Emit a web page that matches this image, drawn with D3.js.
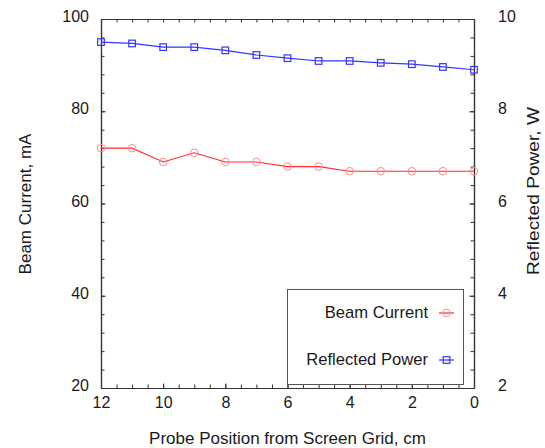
<!DOCTYPE html>
<html>
<head>
<meta charset="utf-8">
<script src="https://cdn.jsdelivr.net/npm/d3@7"></script>
<style>
  html, body { margin: 0; padding: 0; background: #fff; }
  svg { display: block; font-family: "Liberation Sans", Arial, sans-serif; }
</style>
</head>
<body>
<svg id="chart" width="545" height="448"></svg>
<script>
// ---- data ----
const positions = [12, 11, 10, 9, 8, 7, 6, 5, 4, 3, 2, 1, 0];
const beamCurrent = [72, 72, 69, 71, 69, 69, 68, 68, 67, 67, 67, 67, 67];
const reflectedPower = [9.5, 9.47, 9.39, 9.39, 9.32, 9.22, 9.15, 9.09, 9.09, 9.05, 9.02, 8.96, 8.9];
const xTickLabels = [12, 10, 8, 6, 4, 2, 0];
const leftTickLabels = [20, 40, 60, 80, 100];
const rightTickLabels = [2, 4, 6, 8, 10];
const xMinorTicks = d3.range(0, 25).map(i => i * 0.5);
const leftMinorTicks = d3.range(0, 21).map(i => 20 + i * 4);
const rightMinorTicks = d3.range(0, 21).map(i => +(2 + i * 0.4).toFixed(1));
const seriesNames = ["Beam Current", "Reflected Power"];

// ---- layout ----
const L = 101, R = 474, T = 19, B = 388;
const svg = d3.select("#chart");

const x = d3.scaleLinear().domain([12, 0]).range([L, R]);
const yL = d3.scaleLinear().domain([20, 100]).range([B, T]);
const yR = d3.scaleLinear().domain([2, 10]).range([B, T]);

const axisColor = "#333";
const textColor = "#1a1a1a";

function styleAxis(g) {
  g.selectAll("path.domain").attr("stroke", axisColor).attr("stroke-width", 1.2);
  g.selectAll(".tick line").attr("stroke", axisColor).attr("stroke-width", 1);
  g.selectAll(".tick text").attr("fill", textColor).attr("font-size", 16)
    .attr("font-family", "'Liberation Sans', Arial, sans-serif");
}

// minor ticks (no labels)
svg.append("g").attr("transform", `translate(0,${B})`)
  .call(d3.axisBottom(x).tickValues(xMinorTicks).tickSize(-3.5).tickSizeOuter(0).tickFormat(""))
  .call(styleAxis);
svg.append("g").attr("transform", `translate(0,${T})`)
  .call(d3.axisTop(x).tickValues(xMinorTicks).tickSize(-3.5).tickSizeOuter(0).tickFormat(""))
  .call(styleAxis);
svg.append("g").attr("transform", `translate(${L},0)`)
  .call(d3.axisLeft(yL).tickValues(leftMinorTicks).tickSize(-3.5).tickSizeOuter(0).tickFormat(""))
  .call(styleAxis);
svg.append("g").attr("transform", `translate(${R},0)`)
  .call(d3.axisRight(yR).tickValues(rightMinorTicks).tickSize(-3.5).tickSizeOuter(0).tickFormat(""))
  .call(styleAxis);

// labeled major axes
const gx = svg.append("g").attr("transform", `translate(0,${B})`)
  .call(d3.axisBottom(x).tickValues(xTickLabels).tickSize(-4.5).tickSizeOuter(0).tickPadding(9).tickFormat(d3.format("d")))
  .call(styleAxis);
gx.selectAll(".tick text").attr("dy", "0.71em");

const gl = svg.append("g").attr("transform", `translate(${L},0)`)
  .call(d3.axisLeft(yL).tickValues(leftTickLabels).tickSize(-4.5).tickSizeOuter(0).tickPadding(12).tickFormat(d3.format("d")))
  .call(styleAxis);
gl.selectAll(".tick text").attr("dy", "0.16em");

const gr = svg.append("g").attr("transform", `translate(${R},0)`)
  .call(d3.axisRight(yR).tickValues(rightTickLabels).tickSize(-4.5).tickSizeOuter(0).tickPadding(24).tickFormat(d3.format("d")))
  .call(styleAxis);
gr.selectAll(".tick text").attr("dy", "0.16em");

// axis titles
svg.append("text").attr("x", (L + R) / 2 + 0).attr("y", 444)
  .attr("text-anchor", "middle").attr("font-size", 17).attr("fill", textColor)
  .text("Probe Position from Screen Grid, cm");
svg.append("text").attr("transform", `translate(31,204) rotate(-90)`)
  .attr("text-anchor", "middle").attr("font-size", 17).attr("fill", textColor)
  .text("Beam Current, mA");
svg.append("text").attr("transform", `translate(539,191) rotate(-90)`)
  .attr("text-anchor", "middle").attr("font-size", 17).attr("fill", textColor)
  .attr("textLength", 168).attr("lengthAdjust", "spacingAndGlyphs")
  .text("Reflected Power, W");

// ---- series ----
const redLine = "#ff2a2a", redMarker = "#ff8a8a";
const blueLine = "#3535ff", blueMarker = "#3535ff";

const bcData = positions.map((p, i) => ({ p, v: beamCurrent[i] }));
const rpData = positions.map((p, i) => ({ p, v: reflectedPower[i] }));

svg.append("path").datum(bcData)
  .attr("fill", "none").attr("stroke", redLine).attr("stroke-width", 1.1)
  .attr("d", d3.line().x(d => x(d.p)).y(d => yL(d.v)));
svg.append("g").selectAll("circle").data(bcData).join("circle")
  .attr("cx", d => x(d.p)).attr("cy", d => yL(d.v)).attr("r", 3.8)
  .attr("fill", "none").attr("stroke", redMarker).attr("stroke-width", 1);

svg.append("path").datum(rpData)
  .attr("fill", "none").attr("stroke", blueLine).attr("stroke-width", 1.2)
  .attr("d", d3.line().x(d => x(d.p)).y(d => yR(d.v)));
svg.append("g").selectAll("rect").data(rpData).join("rect")
  .attr("x", d => x(d.p) - 3.3).attr("y", d => yR(d.v) - 3.3)
  .attr("width", 6.6).attr("height", 6.6)
  .attr("fill", "none").attr("stroke", blueMarker).attr("stroke-width", 1.2);

// ---- legend ----
const lg = svg.append("g");
lg.append("rect").attr("x", 287.5).attr("y", 289.5).attr("width", 176).attr("height", 95)
  .attr("fill", "#fff").attr("stroke", "#555").attr("stroke-width", 1);

const legendRows = [
  { name: seriesNames[0], y: 313, line: redLine, marker: "circle", mcolor: redMarker },
  { name: seriesNames[1], y: 360, line: blueLine, marker: "rect", mcolor: blueMarker }
];
legendRows.forEach(r => {
  lg.append("text").attr("x", 428).attr("y", r.y).attr("dy", "0.3em")
    .attr("text-anchor", "end").attr("font-size", 16.6).attr("fill", textColor).text(r.name);
  lg.append("line").attr("x1", 439).attr("x2", 454).attr("y1", r.y).attr("y2", r.y)
    .attr("stroke", r.line).attr("stroke-width", 1.2);
  if (r.marker === "circle") {
    lg.append("circle").attr("cx", 446.5).attr("cy", r.y).attr("r", 3.8)
      .attr("fill", "none").attr("stroke", r.mcolor);
  } else {
    lg.append("rect").attr("x", 443.2).attr("y", r.y - 3.3).attr("width", 6.6).attr("height", 6.6)
      .attr("fill", "none").attr("stroke", r.mcolor).attr("stroke-width", 1.2);
  }
});
</script>
</body>
</html>
